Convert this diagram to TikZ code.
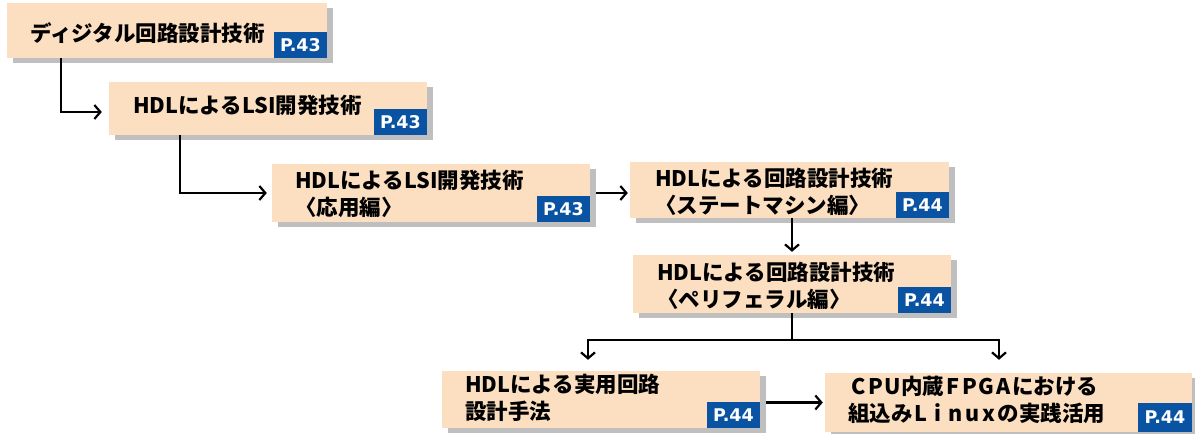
\documentclass[tikz,border=0pt]{standalone}
\usepackage{fontspec}
\setmainfont{Noto Sans CJK JP}
\newfontfamily\tagfont{DejaVu Sans}
\usetikzlibrary{arrows.meta,shadows,calc}
\definecolor{peach}{HTML}{FBDFC0}
\definecolor{tagblue}{HTML}{0A53A2}
\definecolor{shgray}{HTML}{BFBFBF}
\newcommand\fwl[1]{\makebox[17pt]{#1}}
\tikzset{
  box/.style={fill=peach, inner sep=0pt, draw=none,
    general shadow={fill=shgray, shadow xshift=6pt, shadow yshift=-5pt}},
  tag/.style={fill=tagblue, text=white, font=\tagfont\fontsize{17.5}{20}\selectfont\bfseries,
    minimum width=53pt, minimum height=26pt, inner sep=0pt, anchor=south east},
  lbl/.style={font=\fontsize{21.5}{27}\selectfont\bfseries, align=left, anchor=west, inner sep=0pt},
  conn/.style={line width=2.2pt, draw=black},
  arr/.style={conn, -{Straight Barb[length=6pt,width=14pt,line width=2.2pt]}}
}
\begin{document}
\begin{tikzpicture}[x=1pt,y=-1pt]
\useasboundingbox (0,0) rectangle (1195,434);
% boxes
\node[box, minimum width=320pt, minimum height=55pt] (b1) at (167,30.5) {};
\node[box, minimum width=318pt, minimum height=53pt] (b2) at (268,108.5) {};
\node[box, minimum width=318pt, minimum height=58pt] (b3) at (431,193) {};
\node[box, minimum width=319pt, minimum height=56pt] (b4) at (789.5,190) {};
\node[box, minimum width=318pt, minimum height=58pt] (b5) at (792,284) {};
\node[box, minimum width=318pt, minimum height=57pt] (b6) at (601,399.5) {};
\node[box, minimum width=367pt, minimum height=59pt] (b7) at (1008.5,402.5) {};
% tags
\node[tag] (t1) at (b1.south east) {P.43};
\node[tag] (t2) at (b2.south east) {P.43};
\node[tag] (t3) at (b3.south east) {P.43};
\node[tag] (t4) at (b4.south east) {P.44};
\node[tag] (t5) at (b5.south east) {P.44};
\node[tag] (t6) at (b6.south east) {P.44};
\node[tag, minimum width=54pt, minimum height=29pt] (t7) at (b7.south east) {P.44};
% labels
\node[lbl] (l1) at (30,33) {ディジタル回路設計技術};
\node[lbl] (l2) at (133,105) {HDLによるLSI開発技術};
\node[lbl] (l3) at (295,194) {HDLによるLSI開発技術\\〈応用編〉};
\node[lbl] (l4) at (655,191.5) {HDLによる回路設計技術\\〈ステートマシン編〉};
\node[lbl] (l5) at (657,285.5) {HDLによる回路設計技術\\〈ペリフェラル編〉};
\node[lbl] (l6) at (465,397.5) {HDLによる実用回路\\設計手法};
\node[lbl] (l7) at (848,400) {\hspace{2pt}\fwl{C}\fwl{P}\fwl{U}内蔵\fwl{F}\fwl{P}\fwl{G}\fwl{A}における\\組込み\fwl{L}\fwl{i}\fwl{n}\fwl{u}\fwl{x}の実践活用};
% connectors
\draw[arr] ([xshift=54pt]b1.south west) |- ([xshift=-7pt,yshift=-3.5pt]b2.west);
\draw[arr] ([xshift=71pt]b2.south west) |- ([xshift=-5pt]b3.west);
\draw[arr] ([xshift=6pt]b3.east) -- ([xshift=-2pt]b3.east -| b4.west);
\draw[arr] (b5.north |- b4.south) -- ([yshift=3pt]b5.north);
\coordinate (j) at ($(b5.south)+(0,27)$);
\draw[conn] (b5.south) -- (j);
\draw[arr] (j) -| ([xshift=-13pt,yshift=11pt]b6.north);
\draw[arr] (j) -| ([xshift=-9.5pt,yshift=13pt]b7.north);
\draw[arr] ([xshift=6pt]b6.east |- b7.west) -- ([xshift=-2pt]b7.west);
\end{tikzpicture}
\end{document}
